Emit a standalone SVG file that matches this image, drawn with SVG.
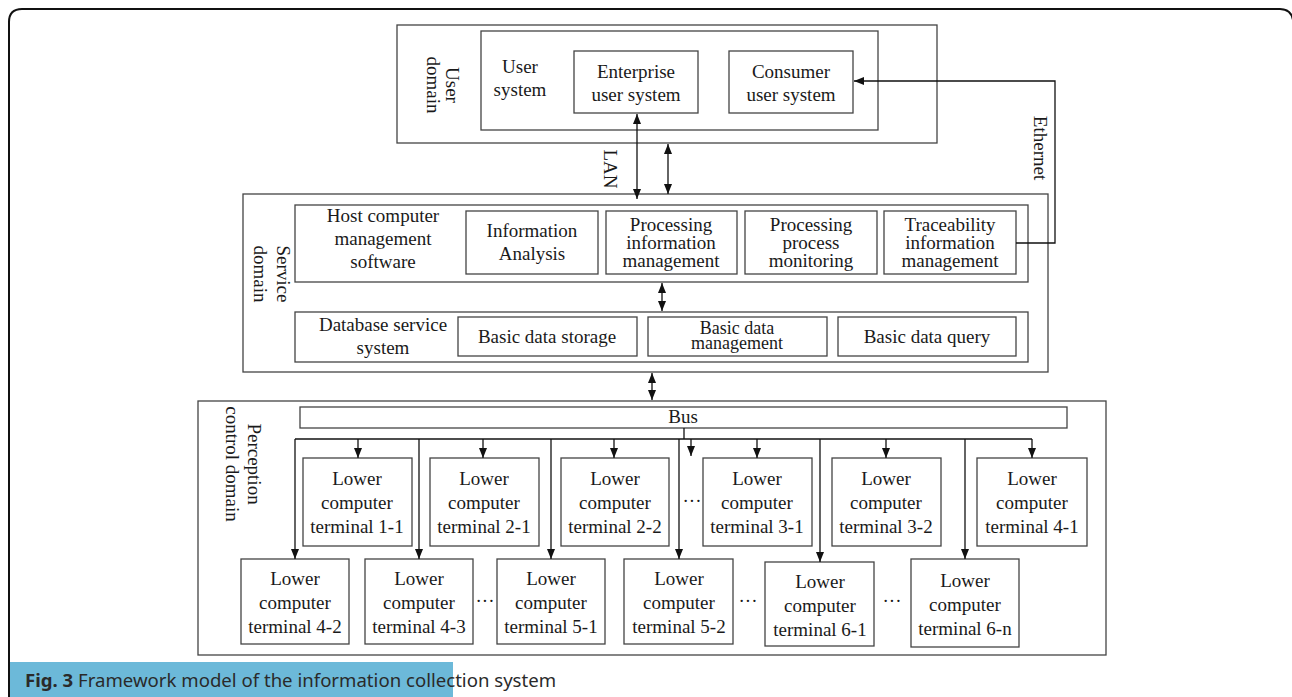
<svg xmlns="http://www.w3.org/2000/svg" width="1292" height="697" viewBox="0 0 1292 697">
<style>
  .box{fill:none;stroke:#444;stroke-width:1.3}
  .t{font-family:"Liberation Serif","Times New Roman",serif;font-size:19px;fill:#1a1a1a;text-anchor:middle}
  .s{font-size:18px}
  .ln{fill:none;stroke:#111;stroke-width:1.3}
  .dots{font-family:"Liberation Serif",serif;font-size:19px;fill:#1a1a1a;text-anchor:middle}
  .cap{font-family:"Noto Sans","Open Sans",sans-serif;font-size:18.6px;fill:#2a2a2a}
</style>
<defs>
  <marker id="ah" viewBox="0 0 10 8" refX="10" refY="4" markerWidth="10" markerHeight="8" markerUnits="userSpaceOnUse" orient="auto-start-reverse">
    <path d="M0,0 L10,4 L0,8 z" fill="#111"/>
  </marker>
</defs>
<rect width="1292" height="697" fill="#fff"/>
<!-- outer frame -->
<path d="M9,697 V22 Q9,9 22,9 H1280 Q1291,9 1293,20" fill="none" stroke="#111" stroke-width="2"/>
<!-- caption -->
<g id="caption">
  <rect x="10" y="662" width="443" height="35" fill="#6cb9d9"/>
  <text class="cap" x="25" y="687"><tspan font-weight="bold">Fig. 3</tspan> Framework model of the information collection system</text>
</g>

<!-- User domain -->
<g id="user-domain">
  <rect class="box" x="397" y="25" width="540" height="118"/>
  <text class="t" transform="translate(446,85) rotate(90)"><tspan x="0" y="0">User</tspan><tspan x="0" y="19">domain</tspan></text>
</g>
<g id="user-system">
  <rect class="box" x="481" y="31" width="397" height="99"/>
  <text class="t" x="520" y="73">User</text>
  <text class="t" x="520" y="96">system</text>
</g>
<g id="enterprise-user-system">
  <rect class="box" x="574" y="51" width="124" height="62"/>
  <text class="t" x="636" y="78">Enterprise</text>
  <text class="t" x="636" y="101">user system</text>
</g>
<g id="consumer-user-system">
  <rect class="box" x="729" y="51" width="124" height="62"/>
  <text class="t" x="791" y="78">Consumer</text>
  <text class="t" x="791" y="101">user system</text>
</g>

<!-- Service domain -->
<g id="service-domain">
  <rect class="box" x="243" y="194" width="805" height="178"/>
  <text class="t" transform="translate(277,274) rotate(90)"><tspan x="0" y="0">Service</tspan><tspan x="0" y="23">domain</tspan></text>
</g>
<g id="host-computer-management-software">
  <rect class="box" x="295" y="205" width="733" height="77"/>
  <text class="t" x="383" y="222">Host computer</text>
  <text class="t" x="383" y="245">management</text>
  <text class="t" x="383" y="268">software</text>
</g>
<g id="information-analysis">
  <rect class="box" x="466" y="211" width="132" height="63"/>
  <text class="t" x="532" y="237">Information</text>
  <text class="t" x="532" y="260">Analysis</text>
</g>
<g id="processing-information-management">
  <rect class="box" x="606" y="211" width="131" height="63"/>
  <text class="t" x="671" y="231">Processing</text>
  <text class="t" x="671" y="249">information</text>
  <text class="t" x="671" y="267">management</text>
</g>
<g id="processing-process-monitoring">
  <rect class="box" x="745" y="211" width="132" height="63"/>
  <text class="t" x="811" y="231">Processing</text>
  <text class="t" x="811" y="249">process</text>
  <text class="t" x="811" y="267">monitoring</text>
</g>
<g id="traceability-information-management">
  <rect class="box" x="884" y="211" width="132" height="63"/>
  <text class="t" x="950" y="231">Traceability</text>
  <text class="t" x="950" y="249">information</text>
  <text class="t" x="950" y="267">management</text>
</g>
<g id="database-service-system">
  <rect class="box" x="295" y="312" width="733" height="50"/>
  <text class="t" x="383" y="331">Database service</text>
  <text class="t" x="383" y="354">system</text>
</g>
<g id="basic-data-storage">
  <rect class="box" x="458" y="317" width="179" height="39"/>
  <text class="t" x="547" y="343">Basic data storage</text>
</g>
<g id="basic-data-management">
  <rect class="box" x="648" y="317" width="179" height="39"/>
  <text class="t s" x="737" y="334">Basic data</text>
  <text class="t s" x="737" y="349">management</text>
</g>
<g id="basic-data-query">
  <rect class="box" x="838" y="317" width="178" height="39"/>
  <text class="t" x="927" y="343">Basic data query</text>
</g>

<!-- Perception control domain -->
<g id="perception-control-domain">
  <rect class="box" x="198" y="401" width="908" height="254"/>
  <text class="t" transform="translate(248,464) rotate(90)"><tspan x="0" y="0">Perception</tspan><tspan x="0" y="22">control domain</tspan></text>
</g>
<g id="bus">
  <rect class="box" x="300" y="407" width="767" height="21"/>
  <text class="t" x="683" y="423">Bus</text>
</g>

<g id="terminal-1-1"><rect class="box" x="303" y="458" width="109" height="88"/>
  <text class="t" x="357" y="485">Lower</text><text class="t" x="357" y="509">computer</text><text class="t" x="357" y="533">terminal 1-1</text></g>
<g id="terminal-2-1"><rect class="box" x="430" y="458" width="109" height="88"/>
  <text class="t" x="484" y="485">Lower</text><text class="t" x="484" y="509">computer</text><text class="t" x="484" y="533">terminal 2-1</text></g>
<g id="terminal-2-2"><rect class="box" x="561" y="458" width="108" height="88"/>
  <text class="t" x="615" y="485">Lower</text><text class="t" x="615" y="509">computer</text><text class="t" x="615" y="533">terminal 2-2</text></g>
<g id="terminal-3-1"><rect class="box" x="703" y="458" width="109" height="88"/>
  <text class="t" x="757" y="485">Lower</text><text class="t" x="757" y="509">computer</text><text class="t" x="757" y="533">terminal 3-1</text></g>
<g id="terminal-3-2"><rect class="box" x="832" y="458" width="109" height="88"/>
  <text class="t" x="886" y="485">Lower</text><text class="t" x="886" y="509">computer</text><text class="t" x="886" y="533">terminal 3-2</text></g>
<g id="terminal-4-1"><rect class="box" x="977" y="458" width="110" height="88"/>
  <text class="t" x="1032" y="485">Lower</text><text class="t" x="1032" y="509">computer</text><text class="t" x="1032" y="533">terminal 4-1</text></g>

<g id="terminal-4-2"><rect class="box" x="241" y="559" width="108" height="85"/>
  <text class="t" x="295" y="585">Lower</text><text class="t" x="295" y="609">computer</text><text class="t" x="295" y="633">terminal 4-2</text></g>
<g id="terminal-4-3"><rect class="box" x="365" y="559" width="108" height="85"/>
  <text class="t" x="419" y="585">Lower</text><text class="t" x="419" y="609">computer</text><text class="t" x="419" y="633">terminal 4-3</text></g>
<g id="terminal-5-1"><rect class="box" x="497" y="559" width="108" height="85"/>
  <text class="t" x="551" y="585">Lower</text><text class="t" x="551" y="609">computer</text><text class="t" x="551" y="633">terminal 5-1</text></g>
<g id="terminal-5-2"><rect class="box" x="624" y="559" width="109" height="85"/>
  <text class="t" x="679" y="585">Lower</text><text class="t" x="679" y="609">computer</text><text class="t" x="679" y="633">terminal 5-2</text></g>
<g id="terminal-6-1"><rect class="box" x="765" y="562" width="109" height="84"/>
  <text class="t" x="820" y="588">Lower</text><text class="t" x="820" y="612">computer</text><text class="t" x="820" y="636">terminal 6-1</text></g>
<g id="terminal-6-n"><rect class="box" x="911" y="559" width="108" height="88"/>
  <text class="t" x="965" y="587">Lower</text><text class="t" x="965" y="611">computer</text><text class="t" x="965" y="635">terminal 6-n</text></g>

<g id="ellipses">
  <text class="dots" x="692" y="507">···</text>
  <text class="dots" x="485" y="607">···</text>
  <text class="dots" x="748" y="607">···</text>
  <text class="dots" x="892" y="607">···</text>
</g>

<!-- connectors -->
<g id="connectors">
  <line class="ln" x1="637" y1="114" x2="637" y2="199" marker-start="url(#ah)" marker-end="url(#ah)"/>
  <line class="ln" x1="668" y1="144" x2="668" y2="194" marker-start="url(#ah)" marker-end="url(#ah)"/>
  <text class="t" transform="translate(604,169) rotate(90)">LAN</text>
  <polyline class="ln" points="1016,243 1055,243 1055,81 854,81" marker-end="url(#ah)"/>
  <text class="t" transform="translate(1034,148) rotate(90)">Ethernet</text>
  <line class="ln" x1="662" y1="283" x2="662" y2="311" marker-start="url(#ah)" marker-end="url(#ah)"/>
  <line class="ln" x1="652" y1="373" x2="652" y2="400" marker-start="url(#ah)" marker-end="url(#ah)"/>
  <!-- bus -->
  <line class="ln" x1="684" y1="428" x2="684" y2="439" stroke-width="2"/>
  <line class="ln" x1="295" y1="439" x2="1032" y2="439" stroke-width="2"/>
  <line class="ln" x1="358" y1="439" x2="358" y2="458" marker-end="url(#ah)"/>
  <line class="ln" x1="483" y1="439" x2="483" y2="458" marker-end="url(#ah)"/>
  <line class="ln" x1="614" y1="439" x2="614" y2="458" marker-end="url(#ah)"/>
  <line class="ln" x1="691" y1="439" x2="691" y2="456" marker-end="url(#ah)"/>
  <line class="ln" x1="757" y1="439" x2="757" y2="458" marker-end="url(#ah)"/>
  <line class="ln" x1="886" y1="439" x2="886" y2="458" marker-end="url(#ah)"/>
  <line class="ln" x1="1032" y1="439" x2="1032" y2="458" marker-end="url(#ah)"/>
  <line class="ln" x1="295" y1="439" x2="295" y2="559" marker-end="url(#ah)"/>
  <line class="ln" x1="419" y1="439" x2="419" y2="559" marker-end="url(#ah)"/>
  <line class="ln" x1="551" y1="439" x2="551" y2="559" marker-end="url(#ah)"/>
  <line class="ln" x1="679" y1="439" x2="679" y2="559" marker-end="url(#ah)"/>
  <line class="ln" x1="820" y1="439" x2="820" y2="562" marker-end="url(#ah)"/>
  <line class="ln" x1="965" y1="439" x2="965" y2="559" marker-end="url(#ah)"/>
</g>
</svg>
